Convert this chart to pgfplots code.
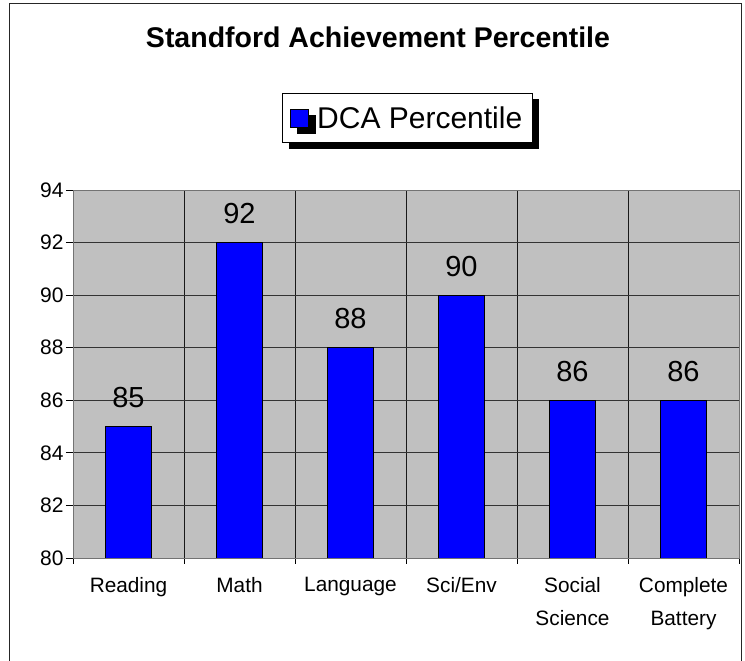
\documentclass[border=0pt]{standalone}
\usepackage{pgfplots}
\pgfplotsset{compat=1.18}
\usepackage{fontspec}
\setmainfont{Liberation Sans}
\usetikzlibrary{shadows}
\definecolor{plotbg}{HTML}{C0C0C0}
\begin{document}
\begin{tikzpicture}[x=1pt,y=1pt]
\useasboundingbox (0,0) rectangle (745,661);
\fill[white] (0,0) rectangle (745,661);
\draw[line width=1pt, black!85] (9,-2) -- (9,657) -- (741,657) -- (741,-2);
\begin{axis}[
  at={(73pt,103pt)}, anchor=south west,
  scale only axis, width=666pt, height=368pt,
  xmin=-0.5, xmax=5.5, ymin=80, ymax=94,
  axis background/.style={fill=plotbg},
  axis line style={draw=black!55, line width=0.8pt},
  ytick={80,82,...,94},
  xtick={0,...,5},
  xticklabels={Reading, Math, Language, Sci/Env, Social\\Science, Complete\\Battery},
  minor xtick={-0.5,0.5,...,5.5},
  xtick pos=bottom, ytick pos=left,
  tick align=outside,
  major tick length=7pt, minor tick length=6pt,
  major x tick style={draw=none},
  minor x tick style={black, line width=0.8pt},
  major y tick style={black, line width=0.8pt},
  ymajorgrids, xminorgrids,
  major grid style={black!80, line width=0.8pt},
  minor grid style={black!90, line width=0.8pt},
  /pgf/number format/assume math mode=true,
  yticklabel style={font=\fontsize{21}{24}\selectfont, xshift=1pt},
  xticklabel style={font=\fontsize{20.8}{33}\selectfont, align=center, yshift=-9pt},
  title={Standford Achievement Percentile},
  title style={at={(0.458,1.3696)}, anchor=base, font=\bfseries\fontsize{28.5}{32}\selectfont},
  legend style={at={(0.3138,1.2636)}, anchor=north west, draw=black, line width=0.8pt, fill=white,
    font=\fontsize{30}{34}\selectfont, inner xsep=8pt, inner ysep=11pt, column sep=6pt,
    drop shadow={shadow xshift=7pt, shadow yshift=-6pt, fill=black, opacity=1}},
  legend image code/.code={\draw[fill=blue,draw=black,line width=0.8pt] (0pt,-9pt) rectangle (18pt,9pt);},
  nodes near coords,
  every node near coord/.append style={anchor=base, yshift=19pt, font=\fontsize{29}{32}\selectfont, text=black},
]
\addplot[ybar, bar width=46pt, fill=blue, draw=black, line width=0.8pt] coordinates {
  (0,85) (1,92) (2,88) (3,90) (4,86) (5,86)
};
\addlegendentry{DCA Percentile}
\end{axis}
\end{tikzpicture}
\end{document}
